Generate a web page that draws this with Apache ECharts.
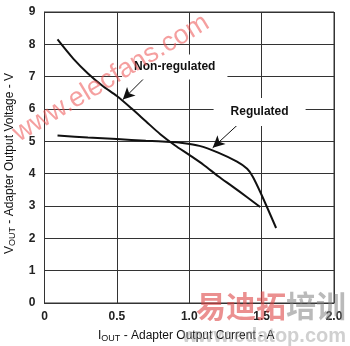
<!DOCTYPE html>
<html>
<head>
<meta charset="utf-8">
<script src="https://cdn.jsdelivr.net/npm/echarts@6/dist/echarts.min.js"></script>
<style>html,body{margin:0;padding:0;background:#fff}#c{width:350px;height:346px}</style>
</head>
<body>
<div id="c"></div>
<script>
// Data
const xTicks = [0, 0.5, 1.0, 1.5, 2.0];
const yTicks = [0, 1, 2, 3, 4, 5, 6, 7, 8, 9];
const nonRegX = [0.09, 0.20, 0.30, 0.40, 0.50, 0.60, 0.70, 0.80, 0.90, 1.00, 1.10, 1.20, 1.30, 1.40, 1.49];
const nonRegY = [8.15, 7.55, 7.10, 6.72, 6.40, 6.02, 5.62, 5.22, 4.88, 4.58, 4.27, 3.92, 3.60, 3.27, 2.97];
const regX = [0.09, 0.30, 0.50, 0.70, 0.87, 0.93, 1.07, 1.20, 1.33, 1.40, 1.44, 1.50, 1.60];
const regY = [5.18, 5.12, 5.07, 5.02, 4.98, 4.96, 4.86, 4.65, 4.37, 4.15, 3.90, 3.34, 2.32];
const labelNonReg = {name: 'Non-regulated', at: [0.90, 7.30], arrowFrom: [0.693, 6.97], arrowTo: [0.541, 6.29]};
const labelReg = {name: 'Regulated', at: [1.486, 5.91], arrowFrom: [1.334, 5.51], arrowTo: [1.162, 4.80]};

const zip = (xs, ys) => xs.map((x, i) => [x, ys[i]]);
const font = 'Liberation Sans, Arial, sans-serif';
const gridColor = '#333';

function annot(lbl, pad) {
  return {
    markPoint: {
      silent: true, symbol: 'rect', symbolSize: 0,
      data: [{name: lbl.name, coord: lbl.at}],
      label: {show: true, position: 'inside', formatter: '{b}', color: '#111', fontFamily: font,
        fontSize: 12, fontWeight: 'bold', backgroundColor: '#fff', padding: pad}
    },
    markLine: {
      silent: true, symbol: ['none', 'arrow'], symbolSize: [9, 12],
      lineStyle: {color: '#111', width: 1, type: 'solid'}, label: {show: false},
      data: [[{coord: lbl.arrowFrom}, {coord: lbl.arrowTo}]]
    }
  };
}

const chart = echarts.init(document.getElementById('c'), null, {renderer: 'canvas'});
chart.setOption({
  animation: false,
  backgroundColor: '#fff',
  grid: {left: 44.5, right: 16, top: 12, bottom: 43, show: true, borderColor: gridColor, borderWidth: 1},
  xAxis: {
    type: 'value', min: xTicks[0], max: xTicks[xTicks.length - 1], interval: 0.5,
    axisLine: {show: true, lineStyle: {color: gridColor}}, axisTick: {show: false},
    splitLine: {show: true, lineStyle: {color: gridColor, width: 1}},
    axisLabel: {color: '#222', fontFamily: font, fontSize: 12, fontWeight: 'bold', margin: 8,
      formatter: v => (v === 0 ? '0' : v.toFixed(1))}
  },
  yAxis: {
    type: 'value', min: yTicks[0], max: yTicks[yTicks.length - 1], interval: 1,
    axisLine: {show: true, lineStyle: {color: gridColor}}, axisTick: {show: false},
    splitLine: {show: true, lineStyle: {color: gridColor, width: 1}},
    axisLabel: {color: '#222', fontFamily: font, fontSize: 12, fontWeight: 'bold', margin: 9}
  },
  series: [
    Object.assign({
      type: 'line', name: 'Non-regulated', data: zip(nonRegX, nonRegY), smooth: 0.3,
      symbol: 'none', lineStyle: {color: '#111', width: 2}, z: 3
    }, annot(labelNonReg, [7, 12, 6, 12])),
    Object.assign({
      type: 'line', name: 'Regulated', data: zip(regX, regY), smooth: 0.3,
      symbol: 'none', lineStyle: {color: '#111', width: 2}, z: 3
    }, annot(labelReg, [8, 17, 8, 17]))
  ],
  graphic: [
    {type: 'text', left: 98, top: 330, z: 10, style: {
      text: '{a|I}{s|OUT}{a| - Adapter Output Current - A}', fill: '#111',
      rich: {a: {fontFamily: font, fontSize: 12, fill: '#111'}, s: {fontFamily: font, fontSize: 9, fill: '#111', padding: [5, 0, 0, 0]}}
    }},
    {type: 'text', x: 3, y: 254, rotation: Math.PI / 2, z: 10, style: {
      text: '{a|V}{s|OUT}{a| - Adapter Output Voltage - V}', fill: '#111',
      rich: {a: {fontFamily: font, fontSize: 12, fill: '#111'}, s: {fontFamily: font, fontSize: 9, fill: '#111', padding: [5, 0, 0, 0]}}
    }},
    {type: 'text', x: 111, y: 78, rotation: 31 * Math.PI / 180, z: 20, silent: true, style: {
      text: 'www.elecfans.com', fill: 'rgba(236,80,80,0.55)', font: '27px ' + font,
      align: 'center', verticalAlign: 'middle'
    }},
    {type: 'text', left: 196, top: 291, z: 20, silent: true, style: {
      text: '{r|易迪拓}{g|培训}',
      rich: {r: {fill: 'rgba(222,70,70,0.6)', fontSize: 30, fontWeight: 'bold', fontFamily: 'Noto Sans CJK SC'},
             g: {fill: 'rgba(130,130,130,0.55)', fontSize: 30, fontWeight: 'bold', fontFamily: 'Noto Sans CJK SC'}}
    }},
    {type: 'text', right: 4, top: 326, z: 20, silent: true, style: {
      text: 'www.edatop.com', fill: 'rgba(150,150,150,0.45)', font: 'bold 20px ' + font
    }}
  ]
});
</script>
</body>
</html>
